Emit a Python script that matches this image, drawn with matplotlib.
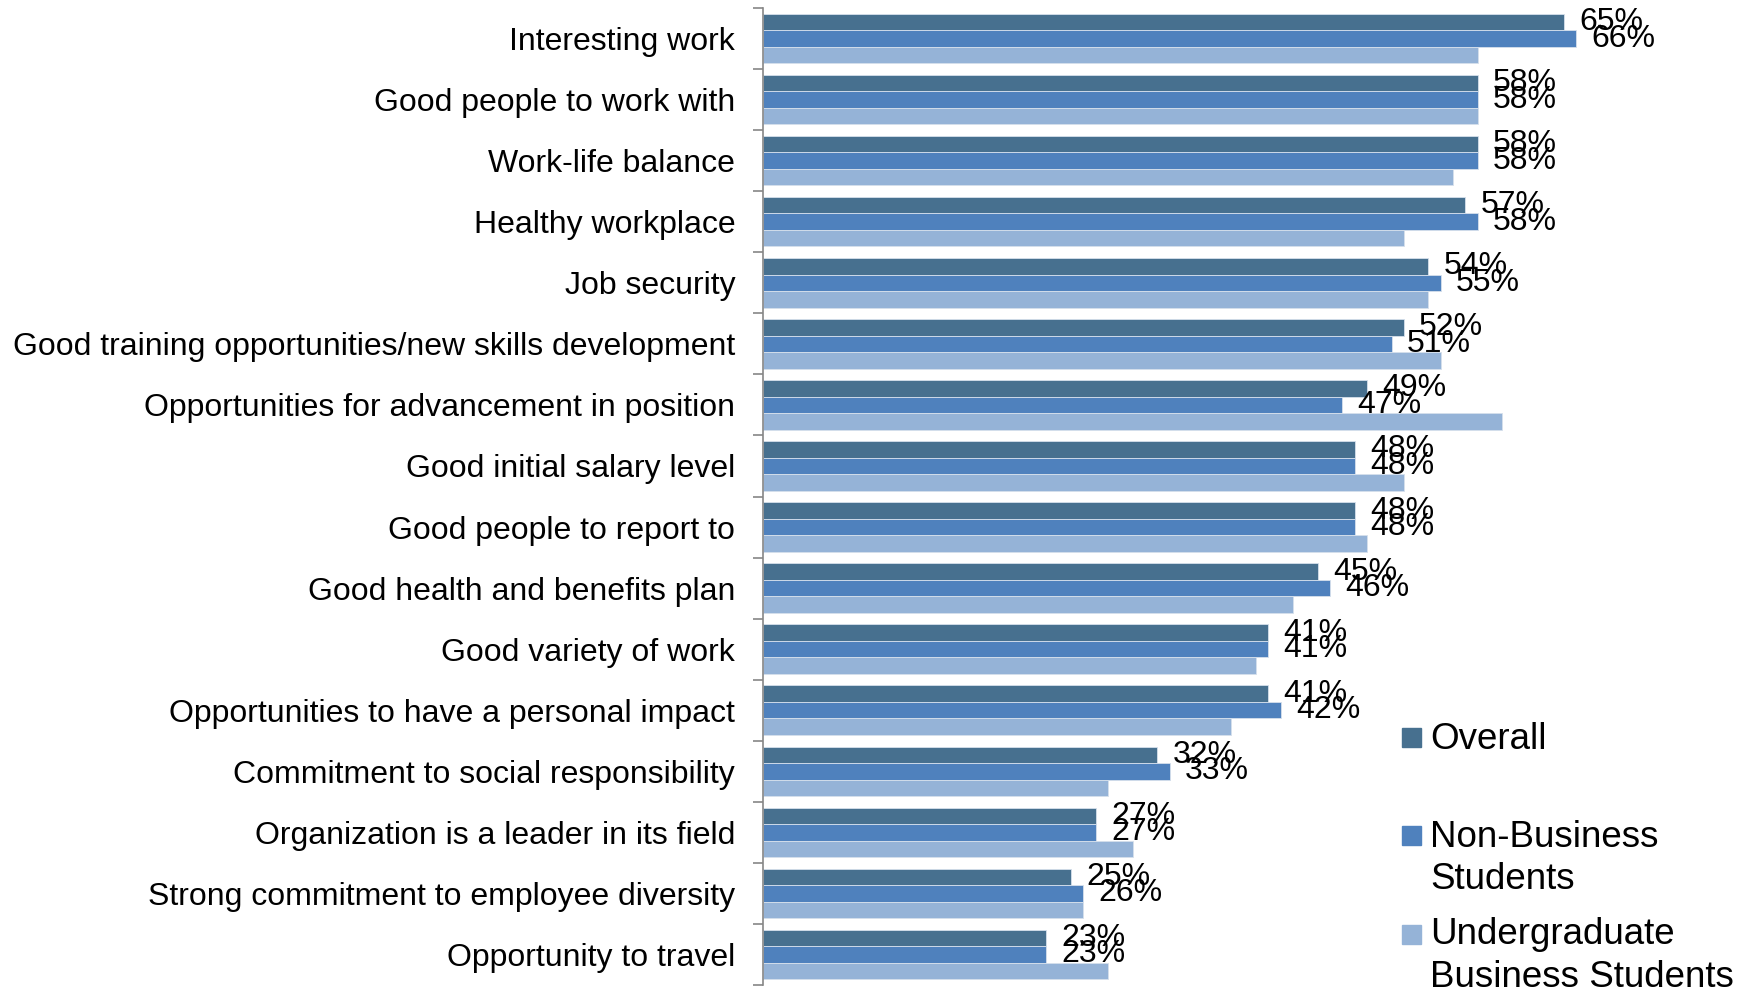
import numpy as np
import matplotlib.pyplot as plt
from matplotlib.patches import Rectangle

plt.rcParams['font.family'] = ['Liberation Sans', 'DejaVu Sans']

categories = [
    'Interesting work', 'Good people to work with', 'Work-life balance',
    'Healthy workplace', 'Job security',
    'Good training opportunities/new skills development',
    'Opportunities for advancement in position', 'Good initial salary level',
    'Good people to report to', 'Good health and benefits plan',
    'Good variety of work', 'Opportunities to have a personal impact',
    'Commitment to social responsibility', 'Organization is a leader in its field',
    'Strong commitment to employee diversity', 'Opportunity to travel',
]
overall = [65, 58, 58, 57, 54, 52, 49, 48, 48, 45, 41, 41, 32, 27, 25, 23]
non_business = [66, 58, 58, 58, 55, 51, 47, 48, 48, 46, 41, 42, 33, 27, 26, 23]
undergrad_business = [58, 58, 56, 52, 54, 55, 60, 52, 49, 43, 40, 38, 28, 30, 26, 28]

series_names = [['Overall'], ['Non-Business', 'Students'],
                ['Undergraduate', 'Business Students']]
colors = ['#47708F', '#4F81BD', '#95B3D7']

W, H = 1760, 992
fig = plt.figure(figsize=(W / 100, H / 100), dpi=100)
ax = fig.add_axes([763 / W, 7 / H, 997 / W, 977 / H])

y = np.arange(len(categories))
h = 0.27
all_series = [overall, non_business, undergrad_business]
for k, (vals, c) in enumerate(zip(all_series, colors)):
    bars = ax.barh(y + (k - 1) * h, vals, height=h, color=c,
                   edgecolor='#D6E0EC', linewidth=0.6)
    if k < 2:
        ax.bar_label(bars, labels=[f'{v}%' for v in vals], padding=11,
                     fontsize=23, color='black')

ax.set_xlim(0, 80.9)
ax.set_ylim(len(categories) - 0.5, -0.5)
ax.set_yticks(y)
ax.set_yticklabels(categories, fontsize=23)
ax.set_yticks(np.arange(len(categories) + 1) - 0.5, minor=True)
ax.tick_params(axis='y', which='major', length=0, pad=20)
ax.tick_params(axis='y', which='minor', length=7, width=1.2, color='#868686')
ax.set_xticks([])
for s in ['top', 'right', 'bottom']:
    ax.spines[s].set_visible(False)
ax.spines['left'].set_color('#868686')
ax.spines['left'].set_linewidth(1.2)

# legend drawn by hand so markers sit on the first text line
marker_y = [737, 835, 934]
baselines = [[749], [847, 889], [944, 987]]
for lines, c, my, bl in zip(series_names, colors, marker_y, baselines):
    fig.add_artist(Rectangle((1402 / W, 1 - (my + 9.5) / H), 19 / W, 19 / H,
                             transform=fig.transFigure, color=c))
    for txt, b in zip(lines, bl):
        fig.text(1430 / W, 1 - b / H, txt, fontsize=26.5, va='baseline',
                 ha='left')

fig.savefig('out.png', dpi=100)
